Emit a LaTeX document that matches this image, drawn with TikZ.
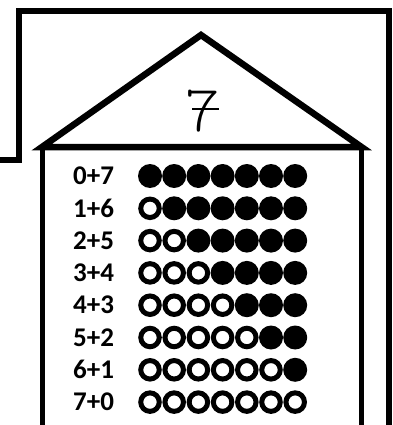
\documentclass[tikz,border=0pt]{standalone}
\usepackage{fontspec}
\newfontfamily\sumfont{Carlito}
\newfontfamily\handfont{lmmonolt10-regular.otf}
\usetikzlibrary{positioning}

\tikzset{
  frame/.style={line width=6pt},
  roof/.style={line width=6.5pt, line join=miter},
  wall/.style={line width=5pt},
  sumlabel/.style={anchor=west, inner sep=0pt, font=\sumfont\bfseries\fontsize{27}{27}\selectfont},
  full/.style={circle, fill=black, minimum size=24pt, inner sep=0pt},
  empty/.style={circle, draw=black, line width=5pt, minimum size=18.5pt, inner sep=0pt},
}

\begin{document}
\begin{tikzpicture}[x=1pt, y=-1pt]
  \useasboundingbox (0,0) rectangle (392,425);

  % Define coordinates for the frame and the house
  \coordinate (fa) at (0,160);
  \coordinate (fb) at (18.5,160);
  \coordinate (fc) at (18.5,10.7);
  \coordinate (fd) at (388.5,10.7);
  \coordinate (fe) at (388.5,425);
  \coordinate (eaveL) at (42,147);
  \coordinate (apex) at (201,35);
  \coordinate (eaveR) at (361.5,147);
  \coordinate (footL) at (42,425);
  \coordinate (footR) at (361.5,425);

  % Draw the frame, roof and walls
  \draw[frame] (fa) -- (fb) -- (fc) -- (fd) -- (fe);
  \draw[roof] (eaveL) -- (apex) -- (eaveR) -- cycle;
  \draw[wall] (eaveL) -- (footL);
  \draw[wall] (eaveR) -- (footR);

  % The number in the roof
  \node[inner sep=0pt, font=\handfont\fontsize{66}{66}\selectfont] (total) at (203,111) {7};
  \coordinate (barL) at (192,109);
  \coordinate (barR) at (219,109);
  \draw[line width=1.6pt] (barL) -- (barR);

  % Rows of sums and beads
  \foreach \a in {0,...,7}{
    \pgfmathtruncatemacro\b{7-\a}
    \node[sumlabel] (sum-\a) at (73,176+32.3*\a) {\a+\b};
    \foreach \i in {1,...,7}{
      \ifnum\i>\a \def\kind{full}\else \def\kind{empty}\fi
      \node[\kind] (bead-\a-\i) at (150+24.2*\i-24.2,176+32.3*\a) {};
    }
  }
\end{tikzpicture}
\end{document}
